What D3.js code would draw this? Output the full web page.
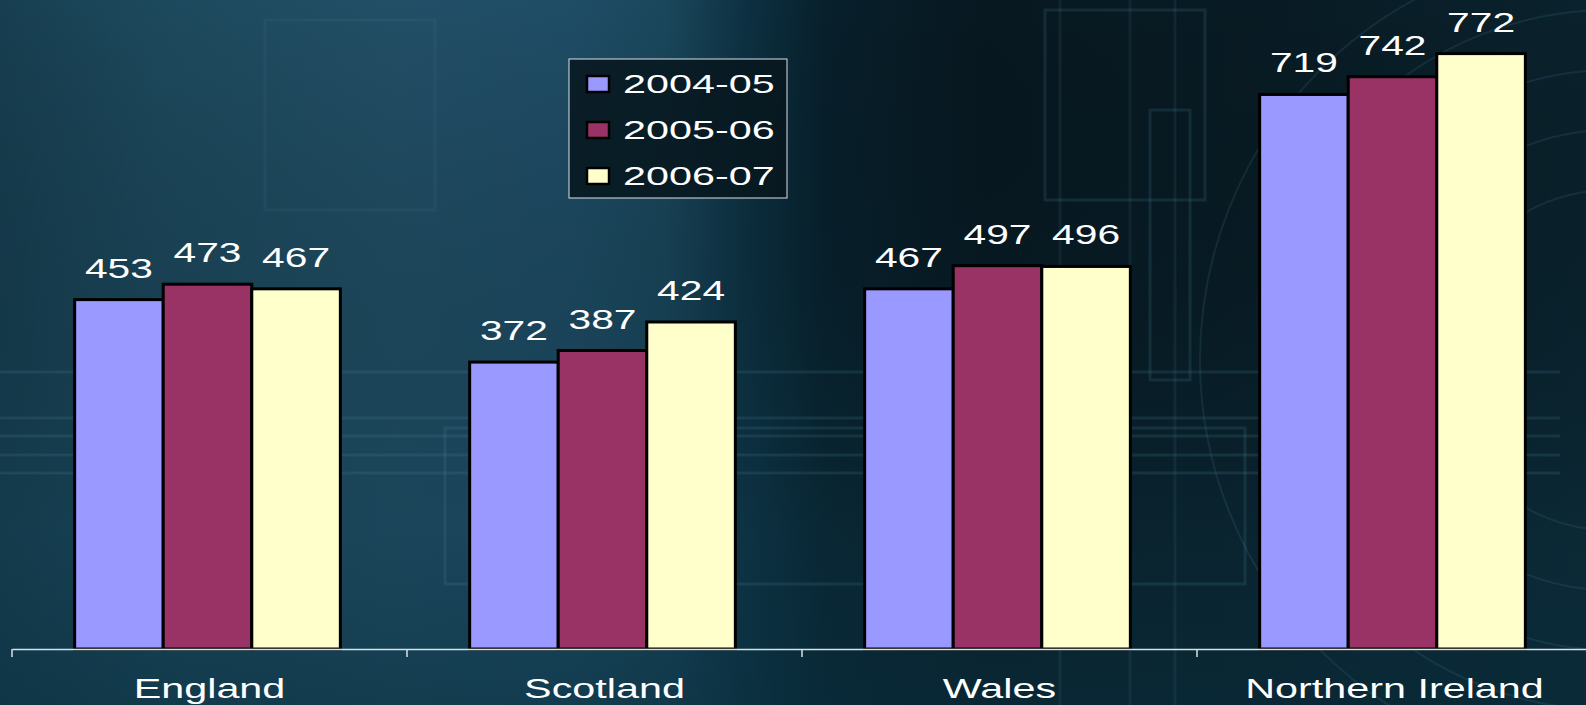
<!DOCTYPE html>
<html>
<head>
<meta charset="utf-8">
<script src="https://cdn.jsdelivr.net/npm/d3@7/dist/d3.min.js"></script>
<style>
  html, body { margin: 0; padding: 0; background: #0a1e28; }
  svg { display: block; }
  text { font-family: "Liberation Sans", Arial, sans-serif; fill: #fff; }
</style>
</head>
<body>
<div id="chart"></div>
<script>
const regions = ['England', 'Scotland', 'Wales', 'Northern Ireland']
const seriesNames = ['2004-05', '2005-06', '2006-07']
const values0405 = [453, 372, 467, 719]
const values0506 = [473, 387, 497, 742]
const values0607 = [467, 424, 496, 772]
const seriesColors = ['#9999ff', '#993366', '#ffffcc']

const width = 1586, height = 705
const stretch = 1.45  // text in the slide is drawn wide

const seriesValues = [values0405, values0506, values0607]
const rows = regions.map((r, i) => ({
  region: r,
  bars: seriesNames.map((s, j) => ({series: s, value: seriesValues[j][i], color: seriesColors[j]}))
}))

const svg = d3.select('#chart').append('svg')
  .attr('width', width)
  .attr('height', height)

// background
const defs = svg.append('defs')
const bg = defs.append('linearGradient').attr('id', 'bg').attr('x1', 0).attr('x2', 1).attr('y1', 0).attr('y2', 0)
bg.selectAll('stop')
  .data([[0, '#173f51'], [0.1, '#1d495d'], [0.25, '#224f66'], [0.36, '#1f4d66'], [0.42, '#1a475c'],
    [0.47, '#0d3142'], [0.52, '#07202c'], [0.62, '#071821'], [0.8, '#081b24'], [1, '#0a222d']])
  .enter().append('stop')
  .attr('offset', d => d[0])
  .attr('stop-color', d => d[1])
const shade = defs.append('linearGradient').attr('id', 'shade').attr('x1', 0).attr('x2', 0).attr('y1', 0).attr('y2', 1)
shade.append('stop').attr('offset', 0).attr('stop-color', '#000').attr('stop-opacity', 0)
shade.append('stop').attr('offset', 0.75).attr('stop-color', '#0d3444').attr('stop-opacity', 0.35)
shade.append('stop').attr('offset', 1).attr('stop-color', '#0a3040').attr('stop-opacity', 0.6)

svg.append('rect').attr('width', width).attr('height', height).attr('fill', 'url(#bg)')
svg.append('rect').attr('width', width).attr('height', height).attr('fill', 'url(#shade)')

const deco = svg.append('g')
  .attr('fill', 'none')
  .attr('stroke', '#4f8aa0')
  .attr('stroke-opacity', 0.18)
  .attr('stroke-width', 3)
;[372, 418, 436, 455, 473].forEach(yy => {
  deco.append('line').attr('x1', 0).attr('x2', 1560).attr('y1', yy).attr('y2', yy)
})
deco.append('rect').attr('x', 445).attr('y', 428).attr('width', 800).attr('height', 156)
deco.append('rect').attr('x', 265).attr('y', 20).attr('width', 170).attr('height', 190).attr('stroke-opacity', 0.1)
deco.append('rect').attr('x', 1045).attr('y', 10).attr('width', 160).attr('height', 190)
deco.append('rect').attr('x', 1150).attr('y', 110).attr('width', 40).attr('height', 270)
;[1060, 1130, 1175].forEach(xx => {
  deco.append('line').attr('x1', xx).attr('x2', xx).attr('y1', 0).attr('y2', height).attr('stroke-opacity', 0.12)
})
;[170, 230, 290, 350, 410].forEach(r => {
  deco.append('circle').attr('cx', 1610).attr('cy', 360).attr('r', r).attr('stroke-opacity', 0.16).attr('stroke-width', 2)
})

// scales
const x0 = d3.scaleBand()
  .domain(regions)
  .range([12, 1592])
  .padding(0)

const x1 = d3.scaleBand()
  .domain(seriesNames)
  .range([-2, x0.bandwidth() - 2])
  .paddingInner(0)
  .paddingOuter(0.73)

const y = d3.scaleLinear()
  .domain([0, 800])
  .range([649, 32])

// bars
const groups = svg.selectAll('.group')
  .data(rows)
  .enter().append('g')
  .attr('class', 'group')
  .attr('transform', d => `translate(${x0(d.region)}, 0)`)

groups.selectAll('rect')
  .data(d => d.bars)
  .enter().append('rect')
  .attr('x', d => x1(d.series))
  .attr('y', d => y(d.value))
  .attr('width', x1.bandwidth())
  .attr('height', d => y(0) - y(d.value))
  .attr('fill', d => d.color)
  .attr('stroke', '#000')
  .attr('stroke-width', 3)

// value labels
groups.selectAll('.val')
  .data(d => d.bars)
  .enter().append('g')
  .attr('class', 'val')
  .attr('transform', d => `translate(${x1(d.series) + x1.bandwidth() / 2}, ${y(d.value) - 22})`)
  .append('text')
  .attr('transform', `scale(${stretch + 0.06}, 1)`)
  .style('text-anchor', 'middle')
  .style('font-size', '27px')
  .text(d => d.value)

// x axis
const xAxis = svg.append('g')
  .attr('transform', `translate(0, ${y(0)})`)
  .call(d3.axisBottom(x0).tickSize(0).tickPadding(0).tickSizeOuter(0))
xAxis.select('.domain').attr('stroke', '#d8e2e6').attr('stroke-width', 1.5)
xAxis.selectAll('.tick text')
  .attr('y', 49)
  .attr('dy', 0)
  .attr('fill', '#fff')
  .attr('transform', `scale(${stretch}, 1)`)
  .style('font-size', '28.5px')
  .style('font-family', '"Liberation Sans", Arial, sans-serif')

svg.append('g')
  .selectAll('line')
  .data(regions)
  .enter().append('line')
  .attr('x1', d => x0(d))
  .attr('x2', d => x0(d))
  .attr('y1', y(0))
  .attr('y2', y(0) + 8)
  .attr('stroke', '#d8e2e6')
  .attr('stroke-width', 1.5)

// legend
const legend = svg.append('g').attr('transform', 'translate(569, 59)')
legend.append('rect')
  .attr('width', 218)
  .attr('height', 139)
  .attr('fill', '#07161d')
  .attr('fill-opacity', 0.85)
  .attr('stroke', '#d8e2e6')
  .attr('stroke-width', 1)
const items = legend.selectAll('.item')
  .data(seriesNames)
  .enter().append('g')
  .attr('class', 'item')
  .attr('transform', (d, i) => `translate(0, ${34 + i * 46})`)
items.append('rect')
  .attr('x', 18)
  .attr('y', -17)
  .attr('width', 22)
  .attr('height', 16)
  .attr('fill', (d, i) => seriesColors[i])
  .attr('stroke', '#000')
  .attr('stroke-width', 2.5)
items.append('text')
  .attr('transform', `translate(54, 0) scale(${stretch + 0.11}, 1)`)
  .style('font-size', '26.5px')
  .text(d => d)
</script>
</body>
</html>
